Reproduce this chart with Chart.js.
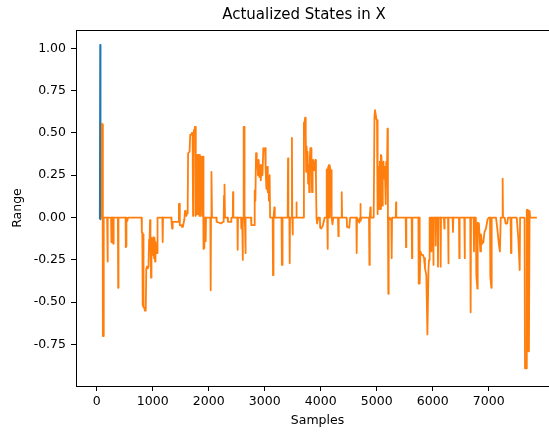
<!DOCTYPE html>
<html>
<head>
<meta charset="utf-8">
<script src="https://cdn.jsdelivr.net/npm/chart.js@4.4.1/dist/chart.umd.min.js"></script>
<style>
html,body{margin:0;padding:0;background:#fff;overflow:hidden;width:549px;height:432px}
#wrap{position:relative;width:608px;height:432px}
</style>
</head>
<body>
<div id="wrap"><canvas id="c" width="608" height="432"></canvas></div>
<script>
const chartTitle = 'Actualized States in X';
const xAxisLabel = 'Samples';
const yAxisLabel = 'Range';
const xTickValues = [0, 1000, 2000, 3000, 4000, 5000, 6000, 7000];
const yTickValues = [-0.75, -0.5, -0.25, 0, 0.25, 0.5, 0.75, 1.0];

const blueX = [55, 62, 68];
const blueY = [-0.01, 1.02, -0.01];

const orangeX = [70,88,92,104,110,117,123,128,186,190,197,201,256,260,266,278,282,288,293,298,302,307,378,383,389,515,519,526,531,545,560,
800,806,814,821,827,836,848,860,875,885,895,905,912,925,935,945,952,960,970,978,988,996,1006,1015,1024,1032,1041,1050,1060,1068,1077,1086,
1172,1178,1184,1330,1336,1346,1356,1462,1468,1478,1484,1506,1520,1540,1550,1565,1577,1590,1600,1615,1625,1632,1645,1658,1670,1690,1700,1712,1720,1728,1740,1752,1760,1766,1772,1780,1786,1792,1798,1805,1812,1818,1826,1834,1842,1850,1858,1866,1875,1884,1893,1898,1904,1910,1916,1922,1940,1946,1952,
2029,2035,2041,2045,2053,2059,2136,2142,2225,2255,2267,2273,2279,2285,2291,2338,2344,2398,2404,2430,2434,2440,2511,2517,2523,2577,2583,2600,2606,2612,2620,2624,2632,2640,2648,2655,2662,
2755,2761,2815,2821,2833,2845,2857,2868,2880,2892,2905,2917,2930,2945,2960,2975,2990,3005,3017,3030,3042,3055,3065,3075,3088,3096,3142,3148,3154,3160,3172,3180,
3300,3306,3312,3318,3410,3416,3422,3440,3446,3452,3480,3486,3492,3498,3504,3560,3566,3572,
3690,3700,3712,3722,3732,3740,3748,3756,3765,3775,3785,3795,3805,3815,3827,3835,3845,3855,3865,3880,3890,3905,3915,3925,3935,3955,3985,3990,4010,4040,4070,
4100,4107,4115,4125,4132,4145,4155,4160,4172,4184,4195,4210,4225,4308,4315,4322,4368,4375,4382,4464,4470,4510,4525,4636,4642,4648,4690,4702,4708,4714,4730,
4862,4869,4876,4887,4893,4946,4960,4970,4985,4995,5005,5012,5020,5028,5036,5045,5055,5065,5075,5085,5095,5108,5120,5132,5145,5160,5170,5180,5193,5200,5207,5214,5230,5238,5260,5267,5274,5340,5345,5350,
5517,5523,5529,5624,5630,5636,5744,5750,5756,5762,5772,5780,5800,5826,5845,5862,5886,5905,5912,5925,5934,5945,5970,5975,5981,6005,6011,6017,6047,6053,6059,6088,6094,6100,6136,6142,6148,
6200,6207,6213,6273,6279,6285,6355,6362,6368,6469,6475,6481,6564,6570,6576,6670,6677,6684,6730,6737,6743,6770,6779,6797,6803,6825,6850,6862,6880,6905,6925,6950,6980,7005,
7023,7029,7047,7053,7130,7150,7184,7200,7215,7243,7249,7255,7285,7300,7330,7345,7390,7398,7406,7500,7529,7553,7560,7640,7648,7668,7680,7692,7700,7718,7730,7740,7860];

const orangeY = [0,0,0.555,0.55,-0.70,-0.70,-0.33,0,0,-0.26,-0.26,0,0,-0.145,0,0,-0.15,-0.14,0,0,-0.155,0,0,-0.415,0,0,-0.175,-0.17,0,-0.02,0,
0,-0.09,-0.09,-0.52,-0.10,-0.53,-0.53,-0.55,-0.55,-0.30,-0.29,-0.29,-0.30,-0.29,-0.13,-0.12,-0.015,-0.12,-0.355,-0.12,-0.125,-0.22,-0.20,-0.115,-0.24,-0.12,-0.26,-0.145,-0.18,-0.21,-0.21,0,
0,-0.145,0,0,-0.025,-0.065,-0.025,-0.025,0.08,0.08,-0.045,-0.045,-0.055,-0.055,-0.035,-0.01,0.04,0.025,0.01,0.025,0.08,0.38,0.38,0.39,0.49,0.49,0.50,0.495,0.01,0.50,0.52,0.535,0.535,0.01,0.30,0.02,0.35,0.33,0.02,0.37,0.37,0.02,0.36,0.01,0.37,0.34,0.01,0.33,0.36,0.30,0.01,0.36,0,-0.185,-0.18,0,0,-0.14,0,
0,-0.43,0,0.27,0.27,0,0,-0.025,-0.035,-0.025,0,0.13,0,0.195,0,0,-0.025,-0.025,0,0,0.15,0,0,-0.19,0,0,-0.065,-0.065,-0.25,0,0,0.535,0.535,0,-0.05,-0.21,0,
0,-0.045,-0.045,0.16,0.10,0.38,0.31,0.34,0.25,0.34,0.24,0.31,0.22,0.31,0.25,0.41,0.40,0.41,0.28,0.17,0.30,0.15,0.23,0.10,0.25,0,0,-0.34,-0.34,0,0.06,0,
0,-0.28,-0.28,0,0,0.35,0,0,-0.27,0,0,0.47,0,-0.10,0,0,0.09,0,
0,0.56,0.565,0.59,0.50,0.27,0.42,0.28,0.39,0.20,0.31,0.15,0.35,0.41,0.41,0.31,0.15,0.30,0.34,0.28,0.30,0.34,0.22,0,-0.035,0,0,-0.06,-0.065,-0.045,0,
0,0.285,0,-0.185,0.30,0.31,0,0.31,0.28,0.28,0,-0.04,0,0,-0.11,0,0,0.15,0,0,-0.055,-0.06,0,0,-0.21,0,-0.03,0,0.08,-0.02,0,
0,-0.28,0,0.06,0,0,0.60,0.635,0.635,0.58,0.575,0.02,0.30,0.05,0.30,0.10,0.33,0.05,0.37,0.36,0.07,0.31,0.33,0.23,0.30,0.08,0.33,0.20,0.525,0,-0.45,0,0,-0.01,-0.01,-0.24,0,0,0.09,0,
0,-0.175,0,0,-0.24,0,0,-0.39,0,-0.39,-0.39,-0.20,-0.22,-0.22,-0.24,-0.30,-0.34,-0.69,-0.69,-0.30,-0.25,0,0,-0.20,0,0,-0.28,0,0,-0.165,0,0,-0.29,0,0,-0.29,0,
0,-0.065,0,0,-0.27,0,0,-0.085,0,0,-0.24,0,0,-0.24,0,0,-0.56,0,0,-0.20,0,0,-0.34,-0.42,-0.03,-0.035,-0.20,-0.10,-0.155,-0.145,-0.085,-0.065,-0.01,0,
0,-0.35,-0.415,0,0,-0.055,-0.165,-0.20,0,0,0.23,0,0,-0.035,-0.035,0,0,-0.21,0,0,-0.125,-0.31,0,0,-0.89,-0.89,0.045,0.045,-0.79,-0.79,0.04,0,0];

const toPts = (xs, ys) => xs.map((x, i) => ({ x: x, y: ys[i] }));

const framePlugin = {
  id: 'frame',
  afterDatasetsDraw(chart) {
    const a = chart.chartArea, ctx = chart.ctx;
    ctx.save();
    ctx.strokeStyle = '#000';
    ctx.lineWidth = 1;
    ctx.strokeRect(Math.round(a.left) + 0.5, Math.round(a.top) + 0.5, Math.round(a.right - a.left), Math.round(a.bottom - a.top));
    ctx.restore();
  }
};

const fontFamily = '"DejaVu Sans", sans-serif';

new Chart(document.getElementById('c'), {
  type: 'line',
  data: {
    datasets: [
      { data: toPts(blueX, blueY), borderColor: '#1f77b4', borderWidth: 1.8, pointRadius: 0, fill: false, tension: 0, order: 1, borderJoinStyle: 'round' },
      { data: toPts(orangeX, orangeY), borderColor: '#ff7f0e', borderWidth: 1.8, pointRadius: 0, fill: false, tension: 0, order: 0, borderJoinStyle: 'round' }
    ]
  },
  options: {
    responsive: false,
    animation: false,
    devicePixelRatio: 1,
    layout: { padding: 0 },
    plugins: {
      legend: { display: false },
      tooltip: { enabled: false },
      title: { display: true, text: chartTitle, color: '#000', font: { family: fontFamily, size: 15, weight: 'normal', lineHeight: 1.2 }, padding: { top: 6, bottom: 6 } }
    },
    scales: {
      x: {
        type: 'linear', min: -370, max: 8255,
        afterBuildTicks: s => { s.ticks = xTickValues.map(v => ({ value: v })); },
        afterFit: s => { s.height = 46; },
        ticks: { color: '#000', font: { family: fontFamily, size: 12.5 }, padding: 3, maxRotation: 0, autoSkip: false, callback: v => String(v) },
        grid: { drawOnChartArea: false, drawTicks: true, tickLength: 5, color: '#000', tickColor: '#000' },
        border: { display: true, color: '#000', width: 1 },
        title: { display: true, text: xAxisLabel, color: '#000', font: { family: fontFamily, size: 12.5, lineHeight: 1.2 }, padding: { top: 4, bottom: 4 } }
      },
      y: {
        type: 'linear', min: -0.995, max: 1.108,
        afterBuildTicks: s => { s.ticks = yTickValues.map(v => ({ value: v })); },
        afterFit: s => { s.width = 76; },
        ticks: { color: '#000', font: { family: fontFamily, size: 12.5 }, padding: 5, autoSkip: false, callback: v => Number(v).toFixed(2) },
        grid: { drawOnChartArea: false, drawTicks: true, tickLength: 5, color: '#000', tickColor: '#000' },
        border: { display: true, color: '#000', width: 1 },
        title: { display: true, text: yAxisLabel, color: '#000', font: { family: fontFamily, size: 12.5, lineHeight: 1.2 }, padding: { top: 10, bottom: 0 } }
      },
      yRight: {
        type: 'linear', position: 'right', display: true,
        afterFit: s => { s.width = 49; },
        ticks: { display: false },
        grid: { display: false, drawTicks: false },
        border: { display: false },
        title: { display: false }
      }
    }
  },
  plugins: [framePlugin]
});
</script>
</body>
</html>
